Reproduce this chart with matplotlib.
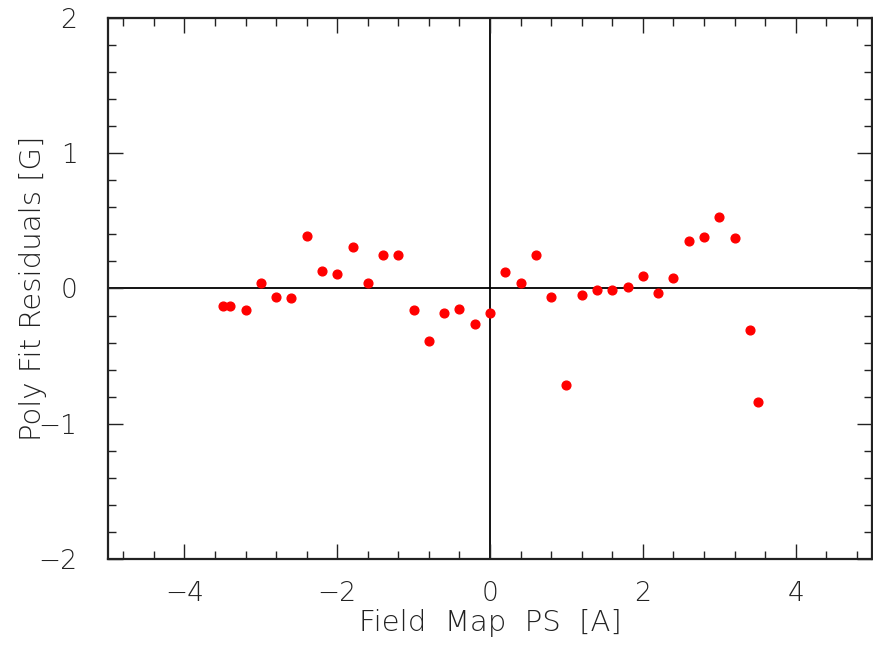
import numpy as np
import matplotlib
matplotlib.use("Agg")
import matplotlib.pyplot as plt
from matplotlib.ticker import MultipleLocator

# Field map power-supply current vs. polynomial fit residuals
current_a = [-3.5, -3.4, -3.2, -3.0, -2.8, -2.6, -2.4, -2.2, -2.0, -1.8,
             -1.6, -1.4, -1.2, -1.0, -0.8, -0.6, -0.4, -0.2, 0.0,
             0.2, 0.4, 0.6, 0.8, 1.0, 1.2, 1.4, 1.6, 1.8, 2.0,
             2.2, 2.4, 2.6, 2.8, 3.0, 3.2, 3.4, 3.5]
residual_g = [-0.13, -0.13, -0.16, 0.04, -0.06, -0.07, 0.39, 0.13, 0.11, 0.31,
              0.04, 0.25, 0.25, -0.16, -0.39, -0.18, -0.15, -0.26, -0.18,
              0.12, 0.04, 0.25, -0.06, -0.71, -0.05, -0.01, -0.01, 0.01, 0.09,
              -0.03, 0.08, 0.35, 0.38, 0.53, 0.37, -0.31, -0.84]

plt.rcParams["font.family"] = ["DejaVu Sans"]
txt = dict(fontsize=21, fontweight="light", color="#222222")

fig = plt.figure(figsize=(8.73, 6.46), dpi=100)
ax = fig.add_axes([0.1237, 0.1347, 0.8753, 0.8375])

ax.axhline(0, color="black", lw=1.3, zorder=1)
ax.axvline(0, color="black", lw=1.3, zorder=1)
ax.plot(current_a, residual_g, "o", color="red", ms=6.3, mec="red", zorder=3)

ax.set_xlim(-5, 5)
ax.set_ylim(-2, 2)
ax.xaxis.set_major_locator(MultipleLocator(2))
ax.xaxis.set_minor_locator(MultipleLocator(0.4))
ax.yaxis.set_major_locator(MultipleLocator(1))
ax.yaxis.set_minor_locator(MultipleLocator(0.2))
ax.tick_params(which="both", direction="in", top=True, right=True,
               width=1.0, color="#222222")
ax.tick_params(which="major", length=11)
ax.tick_params(which="minor", length=6)
ax.tick_params(axis="x", which="major", pad=16)
ax.tick_params(axis="y", which="major", pad=22)
for lab in ax.get_xticklabels() + ax.get_yticklabels():
    lab.set_fontsize(19)
    lab.set_fontweight("light")
    lab.set_color("#222222")
for s in ax.spines.values():
    s.set_linewidth(1.6)
    s.set_color("#222222")

ax.set_xlabel("Field  Map  PS  [A]", labelpad=2, **txt)
ax.set_ylabel("Poly Fit Residuals [G]", labelpad=-6, **txt)

fig.savefig("out.png", dpi=100)
